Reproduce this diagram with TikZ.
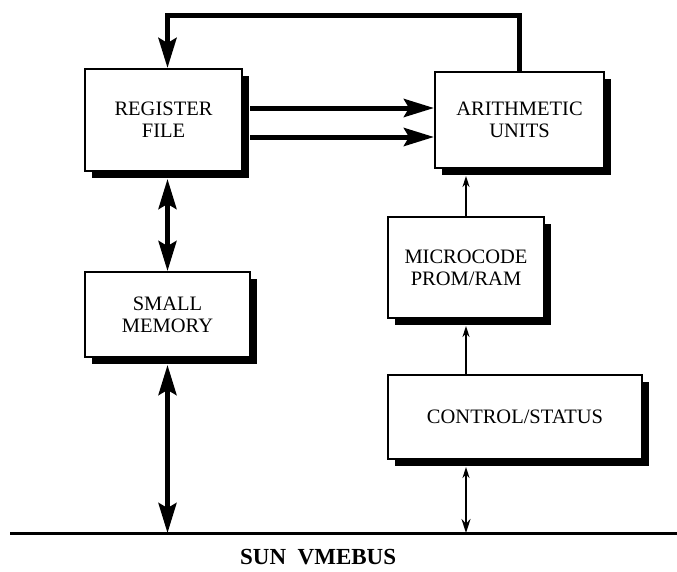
\documentclass[tikz,border=0pt]{standalone}
\usepackage{fontspec}
\setmainfont{Liberation Serif}
\usetikzlibrary{arrows.meta,shadows}

\begin{document}
\begin{tikzpicture}[x=1pt,y=-1pt,
		unit/.style={draw,line width=2pt,fill=white,align=center,inner sep=0pt,
			font=\fontsize{20.5}{22}\selectfont,
			drop shadow={shadow xshift=7pt,shadow yshift=-7pt,fill=black,opacity=1}},
		wide/.style={line width=5pt,-{Stealth[length=30pt,width=18pt,inset=5pt]}},
		widepair/.style={line width=4.5pt,
			{Stealth[length=30pt,width=18pt,inset=5pt]}-{Stealth[length=30pt,width=18pt,inset=5pt]}},
		narrow/.style={line width=1.8pt,-{Stealth[length=11pt,width=7pt]}},
		narrowpair/.style={line width=1.8pt,
			{Stealth[length=11pt,width=7pt]}-{Stealth[length=14pt,width=9pt]}}]
		\useasboundingbox (0,0) rectangle (677,571);

		% Bus line
		\coordinate (busL) at (10,533);
		\coordinate (busR) at (677,533);
		\coordinate (top) at (0,15);
		\draw[line width=3pt] (busL) -- (busR);
		\node[font=\fontsize{23}{26}\selectfont\bfseries,anchor=base west,inner sep=0pt]
			(busname) at (240,564) {SUN\ \ VMEBUS};

		% Units
		\node[unit,minimum width=157pt,minimum height=102pt] (reg)   at (163.5,120) {REGISTER\\FILE};
		\node[unit,minimum width=169pt,minimum height=96pt]  (arith) at (519.5,120) {ARITHMETIC\\UNITS};
		\node[unit,minimum width=165pt,minimum height=85pt]  (mem)   at (167.5,314.5) {SMALL\\MEMORY};
		\node[unit,minimum width=156pt,minimum height=101pt] (micro) at (466,267.5) {MICROCODE\\PROM/RAM};
		\node[unit,minimum width=254pt,minimum height=84pt]  (ctrl)  at (515,417) {CONTROL/STATUS};

		% Data paths
		\draw[wide] (arith.north) -- (arith.north |- top) -- (top -| mem.north)
			-- (reg.north -| mem.north);
		\draw[wide] ([xshift=7pt,yshift=12pt]reg.east) -- ([yshift=12pt]arith.west);
		\draw[wide] ([xshift=7pt,yshift=-17pt]reg.east) -- ([yshift=-17pt]arith.west);
		\draw[widepair] ([yshift=-7pt]reg.south -| mem.north) -- (mem.north);
		\draw[widepair] ([yshift=-7pt]mem.south) -- (mem.south |- busL);

		% Control paths
		\draw[narrow] (micro.north) -- ([yshift=-7pt]arith.south -| micro.north);
		\draw[narrow] (ctrl.north -| micro.north) -- ([yshift=-7pt]micro.south);
		\draw[narrowpair] ([yshift=-7pt]ctrl.south -| micro.south) -- (micro.south |- busL);
	\end{tikzpicture}
\end{document}
